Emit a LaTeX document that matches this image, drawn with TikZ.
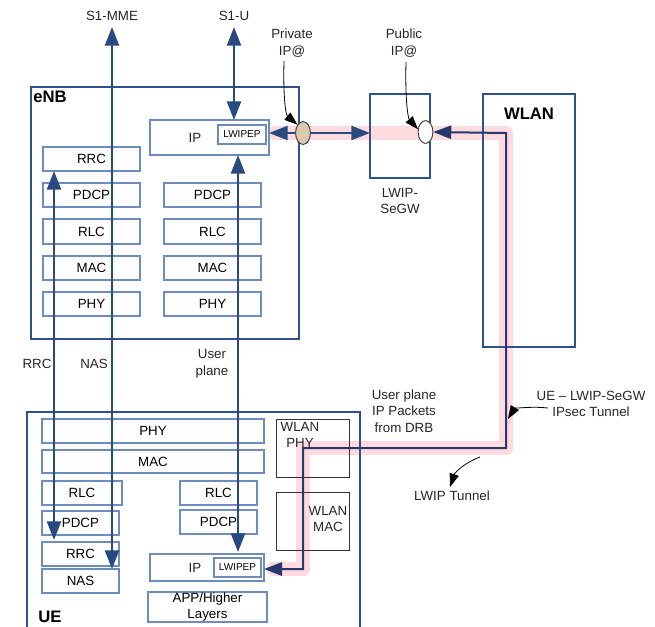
\documentclass[tikz,border=0pt]{standalone}
\usepackage{fontspec}
\setmainfont{Liberation Sans}
\usetikzlibrary{arrows.meta,shapes.geometric}
\definecolor{navy}{RGB}{40,74,128}
\definecolor{outerc}{RGB}{47,80,140}
\definecolor{innerc}{RGB}{110,140,190}
\definecolor{tunc}{RGB}{38,56,110}
\definecolor{pinkc}{RGB}{255,218,222}
\definecolor{tanc}{RGB}{218,200,176}
\newcommand{\mybox}[7]{\node[#7, minimum width={(#4-#2)*0.75pt}, minimum height={(#5-#3)*0.75pt}] (#1) at ({(#2+#4)/2},{(#3+#5)/2}) {#6};}
\tikzset{
  box/.style={draw=innerc, line width=0.8pt, inner sep=0pt, outer sep=0pt, font=\fontsize{10}{12.5}\selectfont, align=center},
  smallbox/.style={box, font=\fontsize{7.5}{9}\selectfont},
  outer/.style={draw=outerc, line width=1.1pt, inner sep=0pt, outer sep=0pt},
  wbox/.style={draw=black!80, line width=0.7pt, inner sep=0pt, outer sep=0pt},
  lbl/.style={font=\fontsize{10}{12.5}\selectfont, align=center, inner sep=0pt, text=black!85},
  ttl/.style={font=\fontsize{12.5}{15}\selectfont\bfseries, inner sep=0pt},
  nav/.style={draw=navy, line width=1.8pt, {Triangle[length=14pt,width=10.5pt]}-{Triangle[length=14pt,width=10.5pt]}},
  tun/.style={draw=tunc, line width=1.5pt, {Triangle[length=13.5pt,width=10pt]}-{Triangle[length=13.5pt,width=10pt]}},
  ann/.style={draw=black, line width=0.6pt, -{Triangle[length=10pt,width=7pt]}},
  hl/.style={draw=pinkc, line width=11pt, line cap=round, line join=round},
  ipell/.style={ellipse, draw=black!75, line width=0.6pt, minimum width=11pt, minimum height=17pt, inner sep=0pt}
}
\begin{document}
\begin{tikzpicture}[x=0.75pt,y=-0.75pt]
\useasboundingbox (0,0) rectangle (655,626);
% named corners of the tunnel
\coordinate (c1) at (303,448);
\coordinate (c2) at (506,133);
\coordinate (hlA) at (275,133);
\coordinate (hlB) at (274,569);
% pink highlight
\draw[hl] (hlA) -- (c2) -- (c1 -| c2) -- (c1) -- (c1 |- hlB) -- (hlB);

% eNB
\mybox{enb}{31}{87}{299}{339}{}{outer}
\node[ttl] (enbT) at (50,97) {eNB};
\mybox{eIP}{150}{120}{269}{155}{}{box}
\node[lbl] (eIPt) at (195,138) {IP};
\mybox{eLW}{218}{125}{266}{144}{LWIPEP}{smallbox}
\mybox{eRRC}{43}{147}{140}{171}{RRC}{box}
\mybox{ePDCPa}{43}{183}{140}{207}{PDCP}{box}
\mybox{eRLCa}{43}{219}{140}{244}{RLC}{box}
\mybox{eMACa}{43}{256}{140}{280}{MAC}{box}
\mybox{ePHYa}{43}{292}{140}{316}{PHY}{box}
\mybox{ePDCPb}{164}{183}{261}{207}{PDCP}{box}
\mybox{eRLCb}{164}{219}{261}{244}{RLC}{box}
\mybox{eMACb}{164}{256}{261}{280}{MAC}{box}
\mybox{ePHYb}{164}{292}{261}{316}{PHY}{box}

% LWIP-SeGW and WLAN
\mybox{segw}{370}{94}{430}{178}{}{outer}
\node[lbl] (segwT) at (400,201) {LWIP-\\SeGW};
\mybox{wlan}{483}{94}{575}{347}{}{outer}
\node[ttl] (wlanT) at (529,114) {WLAN};

% UE
\mybox{ue}{27}{412}{360}{660}{}{outer}
\node[ttl] (ueT) at (50,617) {UE};
\mybox{uPHY}{42}{419}{264}{443}{PHY}{box}
\mybox{uMAC}{42}{450}{264}{473}{MAC}{box}
\mybox{uRLCa}{42}{481}{122}{505}{RLC}{box}
\mybox{uPDCPa}{42}{511}{119}{535}{PDCP}{box}
\mybox{uRRC}{42}{542}{119}{566}{RRC}{box}
\mybox{uNAS}{42}{569}{119}{593}{NAS}{box}
\mybox{uRLCb}{180}{481}{257}{505}{RLC}{box}
\mybox{uPDCPb}{180}{510}{257}{534}{PDCP}{box}
\mybox{uIP}{150}{554}{264}{581}{}{box}
\node[lbl] (uIPt) at (195,568) {IP};
\mybox{uLW}{214}{558}{261}{577}{LWIPEP}{smallbox}
\mybox{uAPP}{148}{592}{267}{622}{APP/Higher\\Layers}{box}
\mybox{wPHY}{276}{419}{349}{477}{}{wbox}
\node[lbl] (wPHYt) at (300,435) {WLAN\\PHY};
\mybox{wMAC}{276}{492}{349}{550}{}{wbox}
\node[lbl] (wMACt) at (328,519) {WLAN\\MAC};

% labels
\node[lbl] (s1mme) at (112,16) {S1-MME};
\node[lbl] (s1u) at (234,16) {S1-U};
\node[lbl] (privT) at (292,43) {Private\\IP@};
\node[lbl] (pubT) at (404,43) {Public\\IP@};
\node[lbl] (rrcT) at (37,364) {RRC};
\node[lbl] (nasT) at (94,364) {NAS};
\node[lbl] (upT) at (212,364) {User\\plane};
\node[lbl] (updrb) at (404,411) {User plane\\IP Packets\\from DRB};
\node[lbl] (ipsecT) at (591,404) {UE \textendash{} LWIP-SeGW\\IPsec Tunnel};
\node[lbl] (lwipT) at (452,496) {LWIP Tunnel};

% vertical arrows
\coordinate (mmeTop) at (112,27);
\coordinate (s1uTop) at (234,27);
\coordinate (rrcx) at (54,0);
\coordinate (upx) at (238,0);
\draw[nav] (mmeTop) -- (mmeTop |- uNAS.north);
\draw[nav] (s1uTop) -- (s1uTop |- eIP.north);
\draw[nav] (rrcx |- eRRC.south) -- ([yshift=1.5pt]rrcx |- uRRC.north);
\draw[nav] (upx |- eIP.south) -- ([yshift=1.5pt]upx |- uIP.north);

% ellipses and horizontal connection
\node[ipell, fill=tanc] (privE) at (303,133) {};
\node[ipell, fill=white] (pubE) at (425.5,132) {};
\draw[nav] (eIP.east |- privE) -- (segw.west |- privE);
\node[ipell, fill=tanc] at (privE) {};

% tunnel
\draw[tun] (uIP.east |- hlB) -- (c1 |- hlB) -- (c1) -- (c1 -| c2) -- (c2) -- (pubE.east);
\node[ipell, fill=white] at (pubE) {};

% annotation arrows
\coordinate (pa) at (284,61);
\coordinate (pb) at (406,62);
\coordinate (ia) at (548,408);
\coordinate (ib) at (508,419);
\coordinate (la) at (480,457);
\coordinate (lb) at (450,487);
\draw[ann] (pa) .. controls (283,100) and (286,115) .. (privE.north west);
\draw[ann] (pb) .. controls (405,100) and (408,118) .. (pubE.160);
\draw[ann] (ia) .. controls (530,406) and (514,409) .. (ib);
\draw[ann] (la) .. controls (466,462) and (455,472) .. (lb);
\end{tikzpicture}
\end{document}
